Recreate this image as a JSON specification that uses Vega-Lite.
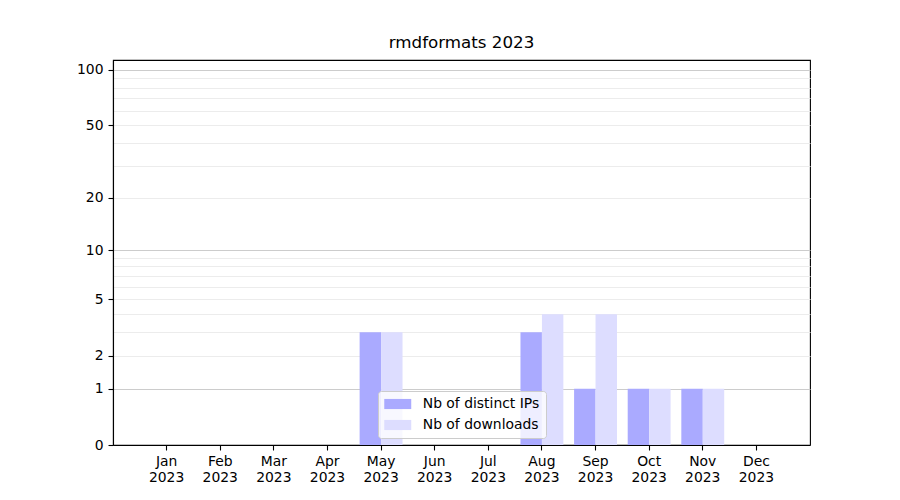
{
  "$schema": "https://vega.github.io/schema/vega-lite/v6.json",
  "autosize": {"type": "none"},
  "padding": {"left": 113, "top": 60, "right": 90, "bottom": 55},
  "width": 697,
  "height": 385,
  "title": {"text": "rmdformats 2023", "fontSize": 16.7, "fontWeight": "normal", "font": "DejaVu Sans", "color": "black", "offset": 8},
  "config": {
    "font": "DejaVu Sans",
    "view": {"stroke": "black", "strokeWidth": 1.1},
    "axis": {"labelFont": "DejaVu Sans", "labelFontSize": 13.9, "labelColor": "black", "tickColor": "black", "domainColor": "black", "tickSize": 5, "tickWidth": 1.1, "domainWidth": 1.1, "title": null}
  },
  "data": {"values": [
    {"month": "Jan 2023", "series": "Nb of distinct IPs", "value": 0},
    {"month": "Jan 2023", "series": "Nb of downloads", "value": 0},
    {"month": "Feb 2023", "series": "Nb of distinct IPs", "value": 0},
    {"month": "Feb 2023", "series": "Nb of downloads", "value": 0},
    {"month": "Mar 2023", "series": "Nb of distinct IPs", "value": 0},
    {"month": "Mar 2023", "series": "Nb of downloads", "value": 0},
    {"month": "Apr 2023", "series": "Nb of distinct IPs", "value": 0},
    {"month": "Apr 2023", "series": "Nb of downloads", "value": 0},
    {"month": "May 2023", "series": "Nb of distinct IPs", "value": 3},
    {"month": "May 2023", "series": "Nb of downloads", "value": 3},
    {"month": "Jun 2023", "series": "Nb of distinct IPs", "value": 0},
    {"month": "Jun 2023", "series": "Nb of downloads", "value": 0},
    {"month": "Jul 2023", "series": "Nb of distinct IPs", "value": 0},
    {"month": "Jul 2023", "series": "Nb of downloads", "value": 0},
    {"month": "Aug 2023", "series": "Nb of distinct IPs", "value": 3},
    {"month": "Aug 2023", "series": "Nb of downloads", "value": 4},
    {"month": "Sep 2023", "series": "Nb of distinct IPs", "value": 1},
    {"month": "Sep 2023", "series": "Nb of downloads", "value": 4},
    {"month": "Oct 2023", "series": "Nb of distinct IPs", "value": 1},
    {"month": "Oct 2023", "series": "Nb of downloads", "value": 1},
    {"month": "Nov 2023", "series": "Nb of distinct IPs", "value": 1},
    {"month": "Nov 2023", "series": "Nb of downloads", "value": 1},
    {"month": "Dec 2023", "series": "Nb of distinct IPs", "value": 0},
    {"month": "Dec 2023", "series": "Nb of downloads", "value": 0}
  ]},
  "mark": {"type": "bar", "opacity": 1},
  "encoding": {
    "x": {
      "field": "month", "type": "nominal", "sort": null,
      "scale": {"paddingInner": 0.2, "paddingOuter": 0.6},
      "axis": {"labelAngle": 0, "labelExpr": "split(datum.label, ' ')", "labelLineHeight": 16, "labelPadding": 4, "labelBaseline": "top", "zindex": 1}
    },
    "xOffset": {"field": "series", "type": "nominal", "sort": ["Nb of distinct IPs", "Nb of downloads"], "scale": {"paddingInner": 0, "paddingOuter": 0}},
    "y": {
      "field": "value", "type": "quantitative",
      "scale": {"type": "symlog", "constant": 1, "domain": [0, 113], "nice": false, "zero": true},
      "axis": {
        "values": [0,1,2,3,4,5,6,7,8,9,10,20,30,40,50,60,70,80,90,100],
        "format": "d",
        "labelOverlap": false,
        "labelBound": false,
        "labelPadding": 5,
        "labelExpr": "indexof([0,1,2,5,10,20,50,100], datum.value) >= 0 ? datum.label : ''",
        "tickOpacity": {"condition": {"test": "indexof([0,1,2,5,10,20,50,100], datum.value) < 0", "value": 0}, "value": 1},
        "grid": true,
        "gridWidth": 1,
        "gridColor": {"condition": {"test": "datum.value == 1 || datum.value == 10 || datum.value == 100", "value": "#cccccc"}, "value": "#ececec"}
      }
    },
    "color": {
      "field": "series", "type": "nominal",
      "scale": {"domain": ["Nb of distinct IPs", "Nb of downloads"], "range": ["#aaaaff", "#ddddff"]},
      "legend": {
        "title": null,
        "orient": "none",
        "legendX": 265,
        "legendY": 331,
        "fillColor": "rgba(255,255,255,0.8)",
        "strokeColor": "#cccccc",
        "cornerRadius": 3,
        "padding": 6,
        "symbolType": "M-2,-0.75H2V0.75H-2Z",
        "symbolSize": 182,
        "symbolOffset": 6.75,
        "symbolOpacity": 1,
        "symbolStrokeWidth": 0,
        "labelFont": "DejaVu Sans",
        "labelFontSize": 13.9,
        "labelColor": "black",
        "labelOffset": 18,
        "rowPadding": 7
      }
    }
  }
}
